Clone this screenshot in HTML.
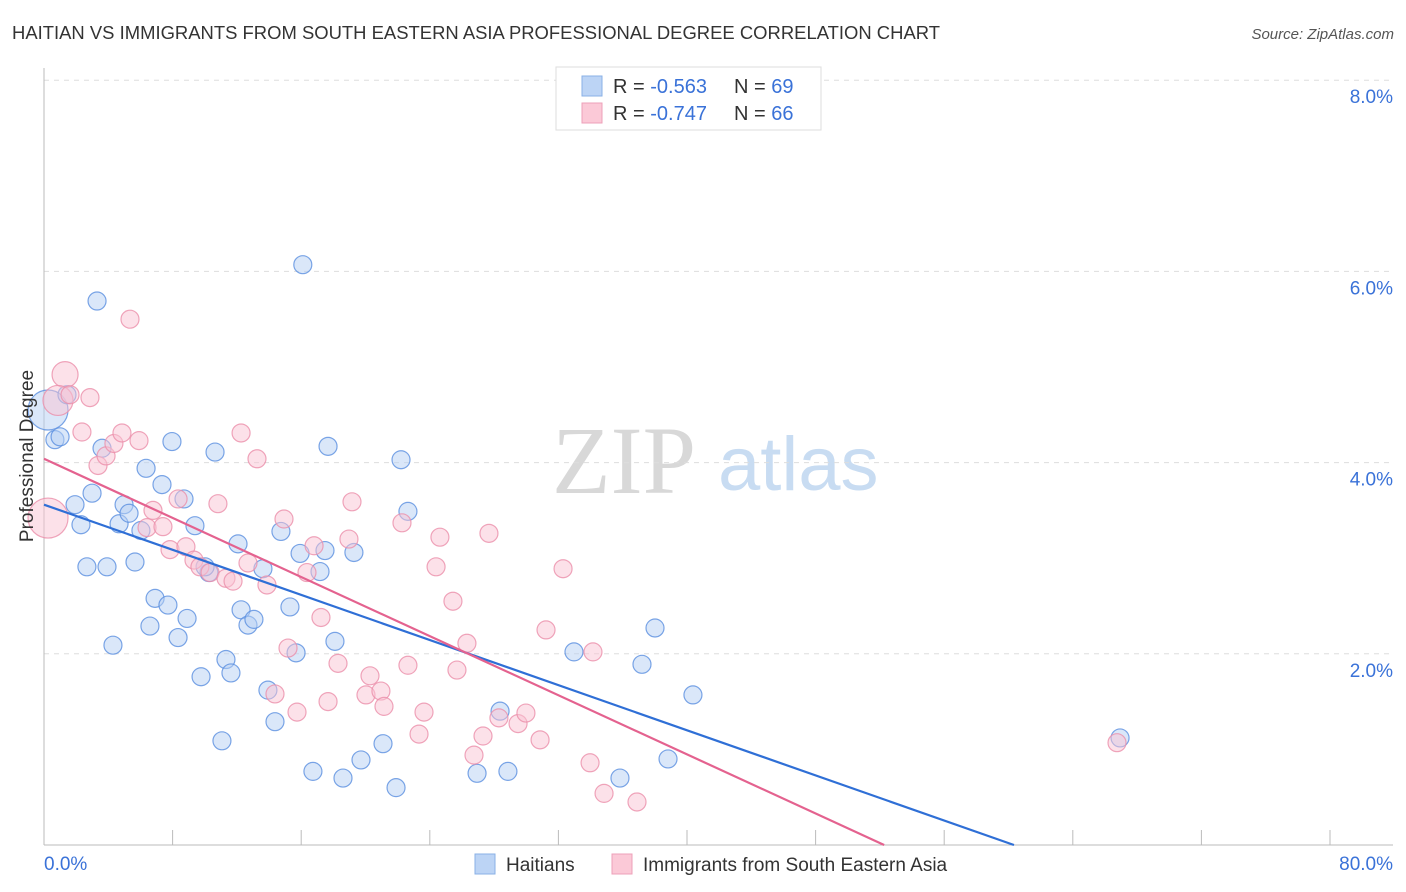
<!DOCTYPE html>
<html><head><meta charset="utf-8"><style>
body{margin:0;background:#fff;font-family:"Liberation Sans",sans-serif;}
svg{display:block}
</style></head><body>
<svg id="chart" width="1406" height="892" xmlns="http://www.w3.org/2000/svg">
<text x="12" y="39" font-size="18.5" fill="#333" textLength="928" lengthAdjust="spacingAndGlyphs">HAITIAN VS IMMIGRANTS FROM SOUTH EASTERN ASIA PROFESSIONAL DEGREE CORRELATION CHART</text>
<text x="1394" y="39" font-size="15" fill="#555" text-anchor="end" font-style="italic">Source: ZipAtlas.com</text>
<g>
<text x="552" y="493" font-size="96" font-family="Liberation Serif,serif" fill="#d8d8d8">ZIP</text>
<text x="718" y="490" font-size="76" fill="#c8dcf2">atlas</text>
</g>
<g id="grid"></g>
<g id="pts"></g>
<g id="lines"></g>
<text transform="translate(33,456) rotate(-90)" font-size="19" fill="#333" text-anchor="middle">Professional Degree</text>
<g>
<rect x="556" y="67" width="265" height="63" fill="#fff" stroke="#ddd"/>
<rect x="582" y="76" width="20" height="20" fill="#bcd4f5" stroke="#8ab0e6"/>
<rect x="582" y="103" width="20" height="20" fill="#fbc9d7" stroke="#eea0b8"/>
<text x="613" y="93" font-size="20" fill="#333">R = <tspan fill="#3a72d8">-0.563</tspan><tspan x="734">N = </tspan><tspan fill="#3a72d8">69</tspan></text>
<text x="613" y="120" font-size="20" fill="#333">R = <tspan fill="#3a72d8"> -0.747</tspan><tspan x="734">N = </tspan><tspan fill="#3a72d8">66</tspan></text>
</g>
<g>
<rect x="475" y="854" width="20" height="20" fill="#bcd4f5" stroke="#8ab0e6"/>
<text x="506" y="871" font-size="19" fill="#333">Haitians</text>
<rect x="612" y="854" width="20" height="20" fill="#fbc9d7" stroke="#eea0b8"/>
<text x="643" y="871" font-size="19" fill="#333">Immigrants from South Eastern Asia</text>
</g>
<text x="44" y="870" font-size="19" fill="#3a72d8">0.0%</text>
<text x="1393" y="870" font-size="19" fill="#3a72d8" text-anchor="end">80.0%</text>
</svg>
<script>
const yTicks=[2,4,6,8];
const yTickLabels=["2.0%","4.0%","6.0%","8.0%"];
const xTicks=[0,8,16,24,32,40,48,56,64,72,80];
const blueX=[0.25,0.68,1.0,1.43,3.3,16.1,1.93,2.3,2.99,3.61,2.67,3.92,4.29,4.98,4.67,5.29,6.03,5.66,6.35,6.91,7.34,7.71,6.59,7.96,8.34,8.71,8.9,9.39,9.77,10.26,10.02,10.64,11.07,11.32,11.63,12.07,12.26,12.69,13.06,13.62,13.93,14.37,14.74,15.3,15.68,15.93,16.73,17.17,17.48,17.67,18.1,18.6,19.28,19.72,21.09,21.9,22.21,22.64,26.94,28.37,28.86,32.97,35.83,37.2,38.01,38.82,40.37,66.94];
const blueY=[4.55,4.24,4.27,4.71,5.69,6.07,3.56,3.35,3.68,4.15,2.91,2.91,2.09,3.56,3.36,3.47,3.29,2.96,3.94,2.58,3.77,2.51,2.29,4.22,2.17,3.62,2.37,3.34,1.76,2.85,2.91,4.11,1.09,1.94,1.8,3.15,2.46,2.3,2.36,2.89,1.62,1.29,3.28,2.49,2.01,3.05,0.77,2.86,3.08,4.17,2.13,0.7,3.06,0.89,1.06,0.6,4.03,3.49,0.75,1.4,0.77,2.02,0.7,1.89,2.27,0.9,1.57,1.12];
const blueR=[20];
const pinkX=[0.25,1.31,0.87,1.62,2.86,5.35,2.36,3.36,3.86,4.35,4.85,5.91,6.41,6.78,7.4,7.84,8.34,8.83,9.33,9.7,10.33,10.82,11.32,11.76,12.26,13.25,12.69,13.87,14.37,14.93,15.18,15.74,16.36,16.8,17.23,17.67,18.29,18.97,19.16,20.03,20.28,20.96,21.15,22.27,22.64,23.33,23.64,24.39,24.63,25.44,25.69,26.31,26.75,27.31,27.68,28.3,29.49,29.98,30.86,31.23,32.29,33.97,34.15,34.84,36.89,66.75];
const pinkY=[3.42,4.92,4.65,4.71,4.68,5.5,4.32,3.97,4.07,4.2,4.31,4.23,3.32,3.5,3.33,3.09,3.62,3.12,2.98,2.91,2.85,3.57,2.79,2.76,4.31,4.04,2.95,2.72,1.58,3.41,2.06,1.39,2.85,3.13,2.38,1.5,1.9,3.2,3.59,1.57,1.77,1.61,1.45,3.37,1.88,1.16,1.39,2.91,3.22,2.55,1.83,2.11,0.94,1.14,3.26,1.33,1.27,1.38,1.1,2.25,2.89,0.86,2.02,0.54,0.45,1.07];
const pinkR=[20,13,15];
const blueFit=[3.56,-0.059];
const pinkFit=[4.04,-0.0773];
const X=v=>44+v*1286/80, Y=v=>845-v*95.6;
const NS="http://www.w3.org/2000/svg";
function mk(t,a,p){const e=document.createElementNS(NS,t);for(const k in a)e.setAttribute(k,a[k]);p.appendChild(e);return e;}
const grid=document.getElementById('grid');
yTicks.forEach((t,i)=>{
 const l=mk('line',{x1:44,x2:1393,y1:Y(t),y2:Y(t),stroke:'#ddd','stroke-dasharray':'5,5'},grid);
 
 
 const tx=mk('text',{x:1393,y:Y(t)+23,'font-size':19,fill:'#3a72d8','text-anchor':'end'},grid);
 tx.textContent=yTickLabels[i];
 
 
});
const ax=mk('line',{x1:44,x2:44,y1:68,y2:845,stroke:'#bbb'},grid);


const bx=mk('line',{x1:44,x2:1393,y1:845,y2:845,stroke:'#bbb'},grid);


xTicks.forEach(t=>{
 const l=mk('line',{x1:X(t),x2:X(t),y1:830,y2:845,stroke:'#bbb'},grid);
 
 
});
const pts=document.getElementById('pts');
function series(xs,ys,rs,fill,stroke,name){
 xs.forEach((x,i)=>{
  const c=mk('circle',{cx:X(x),cy:Y(ys[i]),r:rs[i]||9,fill:fill,'fill-opacity':0.5,stroke:stroke,'stroke-opacity':0.8,'stroke-width':1.2},pts);
  
  
 });
}
series(blueX,blueY,blueR,'#b6cff3','#5a8fe0','haitian-point');
series(pinkX,pinkY,pinkR,'#f9c3d3','#eb8eaa','sea-immigrant-point');
const lines=document.getElementById('lines');
function fit(f,color,name){
 const x0=0,x1=-f[0]/f[1];
 const l=mk('line',{x1:X(x0),y1:Y(f[0]),x2:X(x1),y2:Y(0),stroke:color,'stroke-width':2.2},lines);
 
 
}
fit(blueFit,'#2f6fd6','haitian-trend-line');
fit(pinkFit,'#e4628f','sea-trend-line');
</script>
</body></html>
